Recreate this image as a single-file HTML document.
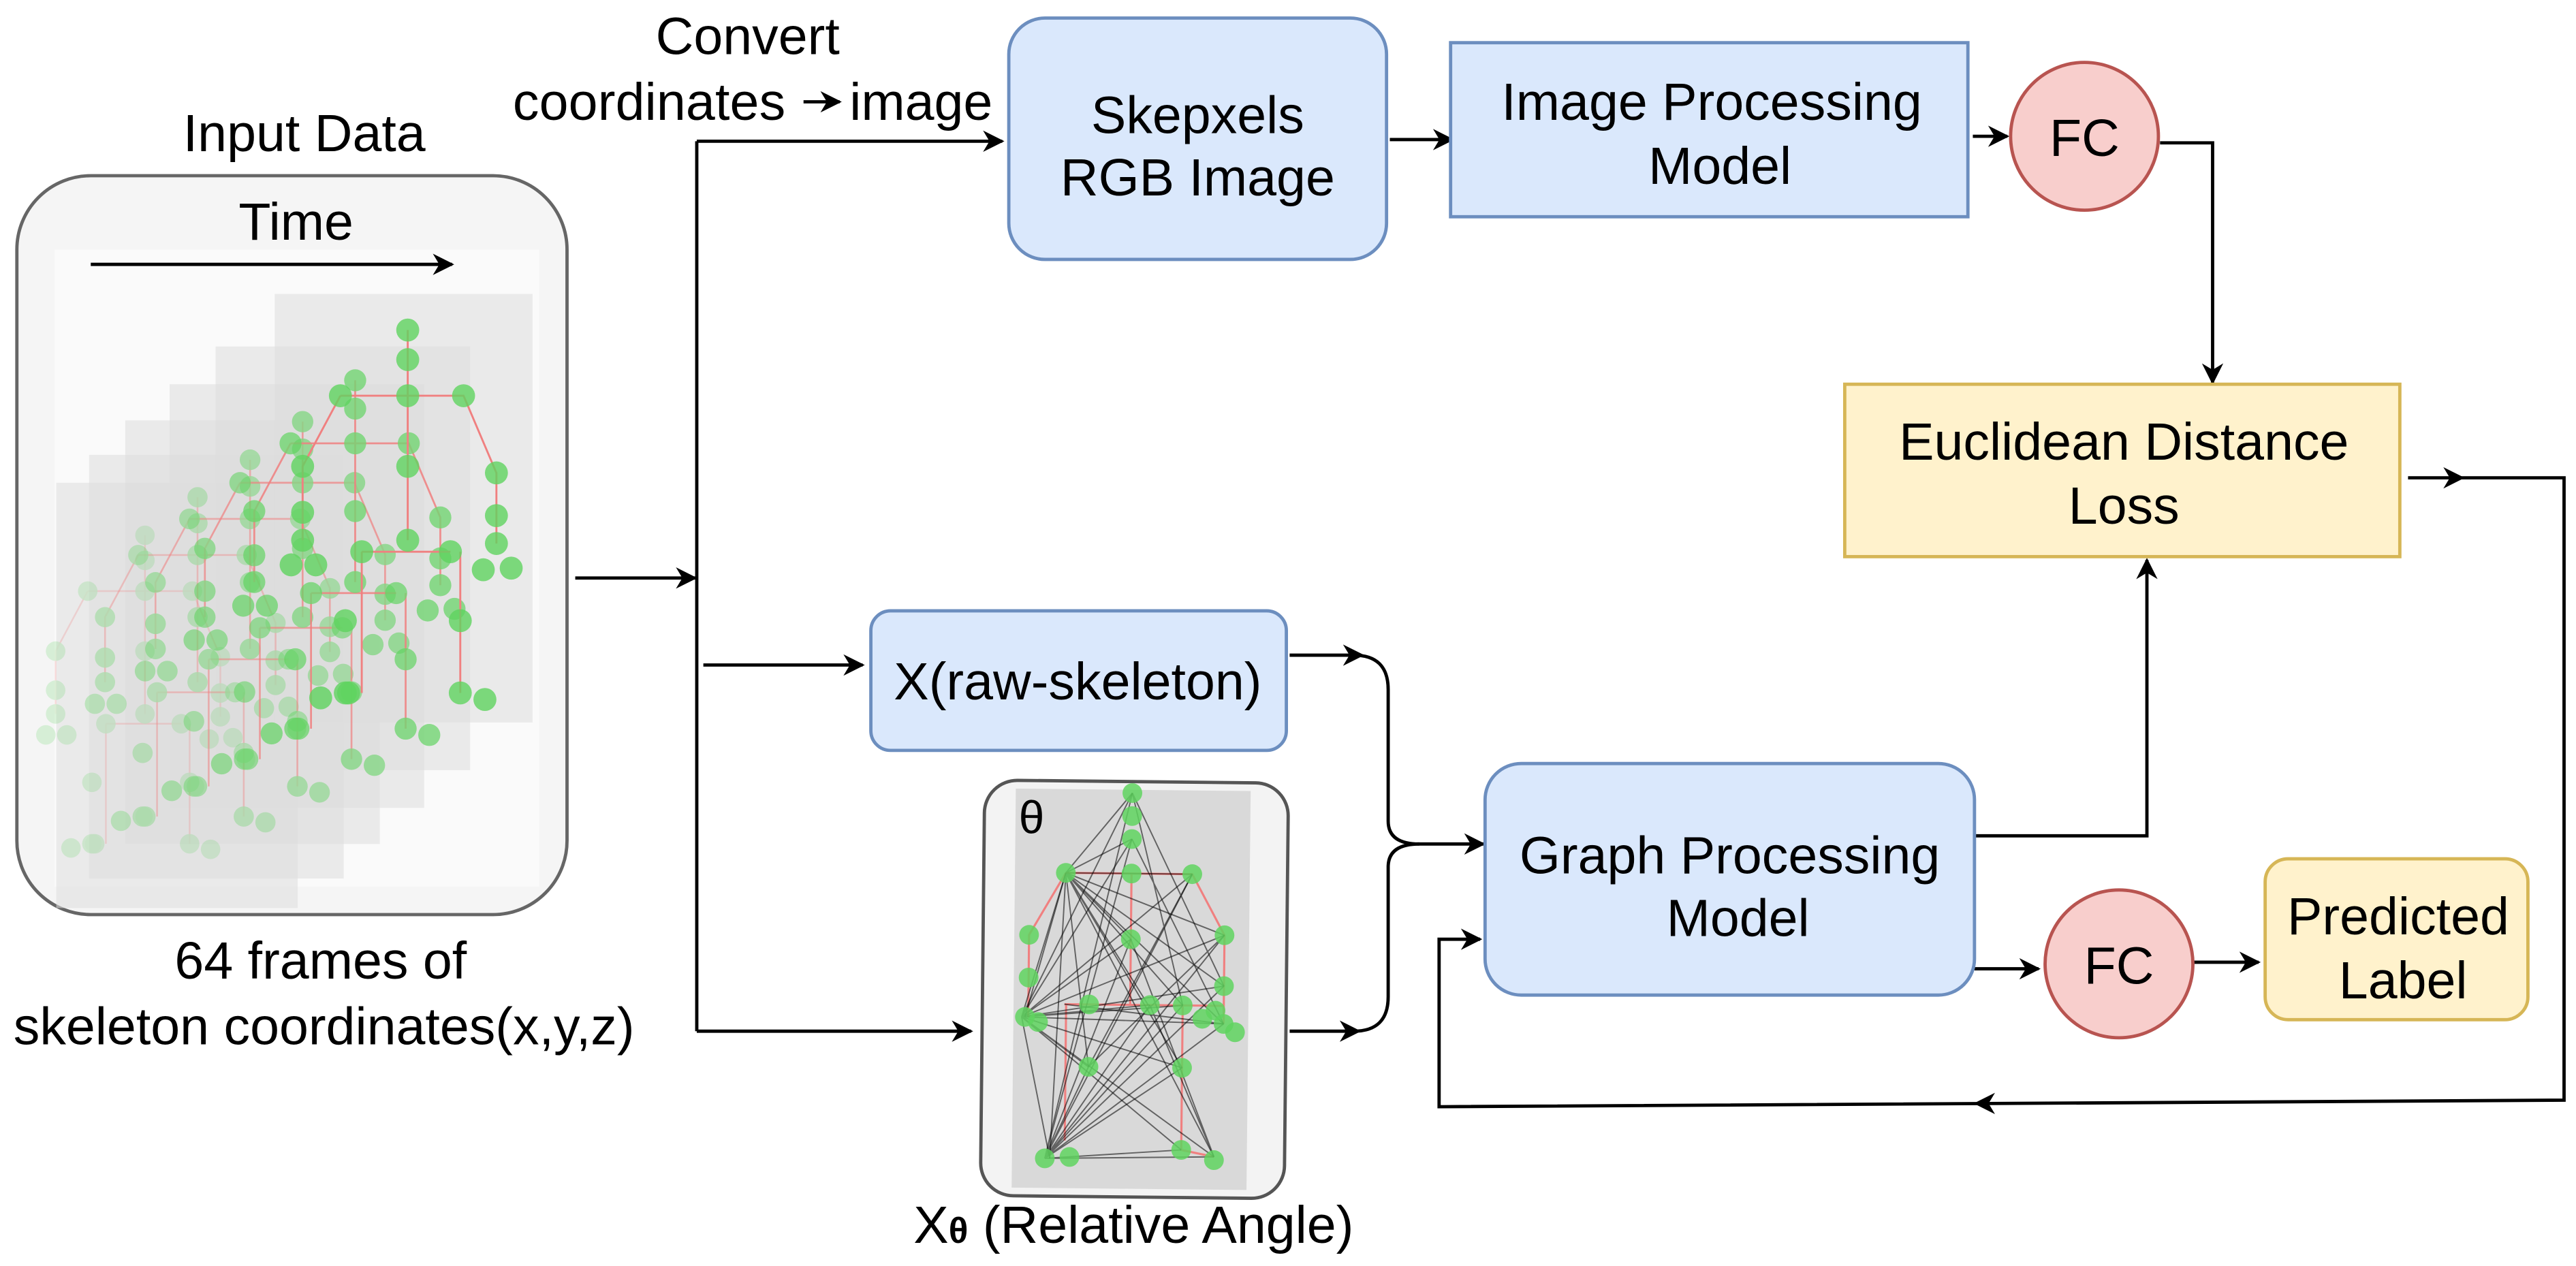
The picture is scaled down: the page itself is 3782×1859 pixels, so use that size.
<!DOCTYPE html>
<html><head><meta charset="utf-8"><style>
html,body{margin:0;padding:0;background:#fff;}
svg{display:block;}
text{font-family:"Liberation Sans",Arial,sans-serif;fill:#000;}
</style></head><body>
<svg width="3782" height="1859" viewBox="0 0 1568 771" xmlns="http://www.w3.org/2000/svg">
<defs>
<marker id="a" viewBox="0 0 10 10" refX="9" refY="5" markerWidth="14" markerHeight="13" markerUnits="userSpaceOnUse" orient="auto">
<path d="M0,0 L10,5 L0,10 L3,5 z" fill="#000"/></marker>
<marker id="a2" viewBox="0 0 10 10" refX="5" refY="5" markerWidth="14" markerHeight="13" markerUnits="userSpaceOnUse" orient="auto">
<path d="M0,0 L10,5 L0,10 L3,5 z" fill="#000"/></marker>
<g id="sk">
<g stroke="#f08080" stroke-width="1.2" fill="none">
<path d="M0,-40 V88 M-41,0 H34 L54,47 V90 M-41,0 L-64,43 V88 M-28,95 H26 M-28,95 V181 M32,95 V181"/>
</g>
<g fill="#5fd35f" fill-opacity="0.8">
<circle cx="0" cy="-40" r="7"/><circle cx="0" cy="-22" r="7"/><circle cx="0" cy="0" r="7"/>
<circle cx="-41" cy="0" r="7"/><circle cx="34" cy="0" r="7"/><circle cx="0" cy="43" r="7"/><circle cx="0" cy="88" r="7"/>
<circle cx="-28" cy="95" r="7"/><circle cx="26" cy="95" r="7"/>
<circle cx="54" cy="47" r="7"/><circle cx="54" cy="73" r="7"/><circle cx="54" cy="90" r="7"/><circle cx="46" cy="106" r="7"/><circle cx="63" cy="105" r="7"/>
<circle cx="-64" cy="43" r="7"/><circle cx="-64" cy="71" r="7"/><circle cx="-64" cy="88" r="7"/><circle cx="-71" cy="103" r="7"/><circle cx="-56" cy="103" r="7"/>
<circle cx="-38" cy="137" r="7"/><circle cx="-38" cy="181" r="7"/><circle cx="-53" cy="184" r="7"/><circle cx="-36" cy="181" r="7"/>
<circle cx="32" cy="137" r="7"/><circle cx="32" cy="181" r="7"/><circle cx="47" cy="185" r="7"/>
</g></g>
</defs>

<text x="185" y="92" font-size="32" text-anchor="middle">Input Data</text>
<rect x="10" y="107" width="335" height="450" rx="45" fill="#f5f5f5" stroke="#666" stroke-width="2"/>
<rect x="33" y="152" width="295" height="388" fill="#fafafa"/>
<g fill="#dcdcdc" fill-opacity="0.55">
<rect x="34" y="294" width="147" height="259"/>
<rect x="54" y="277" width="155" height="258"/>
<rect x="76" y="256" width="155" height="258"/>
<rect x="103" y="234" width="155" height="258"/>
<rect x="131" y="211" width="155" height="258"/>
<rect x="167" y="179" width="157" height="261"/>
</g>
<g opacity="0.25"><use href="#sk" transform="translate(88,360) scale(0.85)"/></g>
<g opacity="0.4"><use href="#sk" transform="translate(120,338) scale(0.88)"/></g>
<g opacity="0.55"><use href="#sk" transform="translate(152,316) scale(0.9)"/></g>
<g opacity="0.7"><use href="#sk" transform="translate(184,294) scale(0.93)"/></g>
<g opacity="0.85"><use href="#sk" transform="translate(216,270) scale(0.96)"/></g>
<use href="#sk" transform="translate(248,241)"/>
<text x="180" y="146" font-size="32" text-anchor="middle">Time</text>
<line x1="55" y1="161" x2="275" y2="161" stroke="#000" stroke-width="2" marker-end="url(#a)"/>
<text x="195" y="596" font-size="32" text-anchor="middle">64 frames of</text>
<text x="197" y="636" font-size="32" text-anchor="middle">skeleton coordinates(x,y,z)</text>

<text x="455" y="33" font-size="32" text-anchor="middle">Convert</text>
<text x="312" y="73" font-size="32" textLength="166">coordinates</text>
<line x1="489" y1="62" x2="511" y2="62" stroke="#000" stroke-width="2" marker-end="url(#a)"/>
<text x="517" y="73" font-size="32">image</text>

<g stroke="#000" stroke-width="2" fill="none">
<line x1="350" y1="352" x2="423" y2="352" marker-end="url(#a)"/>
<path d="M424,86 V628"/>
<line x1="424" y1="86" x2="610" y2="86" marker-end="url(#a)"/>
<line x1="428" y1="405" x2="525" y2="405" marker-end="url(#a)"/>
<line x1="424" y1="628" x2="591" y2="628" marker-end="url(#a)"/>
<line x1="846" y1="85" x2="884" y2="85" marker-end="url(#a)"/>
<line x1="1201" y1="83" x2="1222" y2="83" marker-end="url(#a)"/>
<path d="M1315,87 H1347 V233" marker-end="url(#a)"/>
<path d="M1466,291 H1561 V670 L876,674 V572 H901" marker-end="url(#a)"/>
<path d="M1492,291 H1494" marker-end="url(#a2)"/>
<path d="M1210,672 H1208" marker-end="url(#a2)"/>
<path d="M1202,509 H1307 V341" marker-end="url(#a)"/>
<path d="M1202,590 H1241" marker-end="url(#a)"/>
<path d="M1335,586 H1375" marker-end="url(#a)"/>
<path d="M785,399 H824 Q845,399 845,420 V500 Q845,514 864,514 H903" marker-end="url(#a)"/>
<path d="M822,399 H824" marker-end="url(#a2)"/>
<path d="M785,628 H824 Q845,628 845,607 V528 Q845,514 864,514"/>
<path d="M820,628 H822" marker-end="url(#a2)"/>
</g>

<rect x="614" y="11" width="230" height="147" rx="22" fill="#dae8fc" stroke="#6c8ebf" stroke-width="2"/>
<text x="729" y="81" font-size="32" text-anchor="middle">Skepxels</text>
<text x="729" y="119" font-size="32" text-anchor="middle">RGB Image</text>
<rect x="883" y="26" width="315" height="106" fill="#dae8fc" stroke="#6c8ebf" stroke-width="2"/>
<text x="1042" y="73" font-size="32" text-anchor="middle">Image Processing</text>
<text x="1047" y="112" font-size="32" text-anchor="middle">Model</text>
<circle cx="1269" cy="83" r="45" fill="#f8cecc" stroke="#b85450" stroke-width="2"/>
<text x="1269" y="95" font-size="32" text-anchor="middle">FC</text>
<rect x="1123" y="234" width="338" height="105" fill="#fff2cc" stroke="#d6b656" stroke-width="2"/>
<text x="1293" y="280" font-size="32" text-anchor="middle">Euclidean Distance</text>
<text x="1293" y="319" font-size="32" text-anchor="middle">Loss</text>
<rect x="904" y="465" width="298" height="141" rx="22" fill="#dae8fc" stroke="#6c8ebf" stroke-width="2"/>
<text x="1053" y="532" font-size="32" text-anchor="middle">Graph Processing</text>
<text x="1058" y="570" font-size="32" text-anchor="middle">Model</text>
<circle cx="1290" cy="587" r="45" fill="#f8cecc" stroke="#b85450" stroke-width="2"/>
<text x="1290" y="599" font-size="32" text-anchor="middle">FC</text>
<rect x="1379" y="523" width="160" height="98" rx="14" fill="#fff2cc" stroke="#d6b656" stroke-width="2"/>
<text x="1460" y="569" font-size="32" text-anchor="middle">Predicted</text>
<text x="1463" y="608" font-size="32" text-anchor="middle">Label</text>
<rect x="530" y="372" width="253" height="85" rx="12" fill="#dae8fc" stroke="#6c8ebf" stroke-width="2"/>
<text x="656" y="426" font-size="32" text-anchor="middle">X(raw-skeleton)</text>

<g transform="rotate(0.6 690 602)">
<rect x="598" y="476" width="185" height="253" rx="20" fill="#f3f3f3" stroke="#555" stroke-width="2"/>
<rect x="617" y="481" width="143" height="243" fill="#d9d9d9"/>
<g stroke="#f08080" stroke-width="1.3" fill="none">
<path d="M648,532 H725 L745,569 V623 M648,532 L626,570 V620 M688,532 V612 M648,612 H745 M649,612 V695 M720,612 V700 L740,704"/>
</g>
<g stroke="#000" stroke-opacity="0.55" stroke-width="0.8" fill="none">
<path d="M648,532 L688,483 M648,532 L688,511 M648,532 L725,532 M648,532 L745,569 M648,532 L745,600 M648,532 L745,623 M648,532 L720,612 M648,532 L740,704 M648,532 L688,572 M648,532 L720,650 M648,532 L699,612 M648,532 L663,650 M648,532 L640,706 M648,532 L624,620"/>
<path d="M622,620 L688,483 M622,620 L688,511 M622,620 L725,532 M622,620 L745,569 M622,620 L745,600 M622,620 L745,623 M622,620 L720,612 M622,620 L740,704 M622,620 L688,572 M622,620 L720,650 M622,620 L648,532 M622,620 L663,650 M622,620 L640,706 M622,620 L700,612 M622,620 L720,700"/>
<path d="M637,706 L688,483 M637,706 L688,511 M637,706 L725,532 M637,706 L745,569 M637,706 L745,600 M637,706 L745,623 M637,706 L720,612 M637,706 L740,704 M637,706 L688,572 M637,706 L720,650 M637,706 L700,612 M637,706 L720,700 M637,706 L663,650"/>
<path d="M688,483 L745,600 M688,511 L745,623 M725,532 L663,650 M688,572 L740,704 M745,569 L663,650 M700,612 L740,704 M688,483 L720,612 M745,623 L648,612"/>
</g>
<g fill="#5fd35f" fill-opacity="0.85">
<circle cx="688" cy="483" r="6"/><circle cx="688" cy="497" r="6"/><circle cx="688" cy="511" r="6"/>
<circle cx="648" cy="532" r="6"/><circle cx="688" cy="532" r="6"/><circle cx="725" cy="532" r="6"/>
<circle cx="688" cy="572" r="6"/><circle cx="745" cy="569" r="6"/><circle cx="745" cy="600" r="6"/><circle cx="745" cy="623" r="6"/><circle cx="740" cy="615" r="6"/><circle cx="752" cy="628" r="6"/>
<circle cx="626" cy="570" r="6"/><circle cx="626" cy="596" r="6"/><circle cx="624" cy="620" r="6"/><circle cx="632" cy="623" r="6"/>
<circle cx="700" cy="612" r="6"/><circle cx="720" cy="612" r="6"/><circle cx="663" cy="612" r="6"/><circle cx="732" cy="620" r="6"/>
<circle cx="663" cy="650" r="6"/><circle cx="720" cy="650" r="6"/><circle cx="637" cy="706" r="6"/><circle cx="652" cy="705" r="6"/><circle cx="720" cy="700" r="6"/><circle cx="740" cy="706" r="6"/>
</g>
<text x="619" y="508" font-size="28">θ</text>
</g>
<text x="690" y="757" font-size="32" text-anchor="middle">X<tspan font-weight="bold" font-size="22">θ</tspan> (Relative Angle)</text>
</svg>
</body></html>
